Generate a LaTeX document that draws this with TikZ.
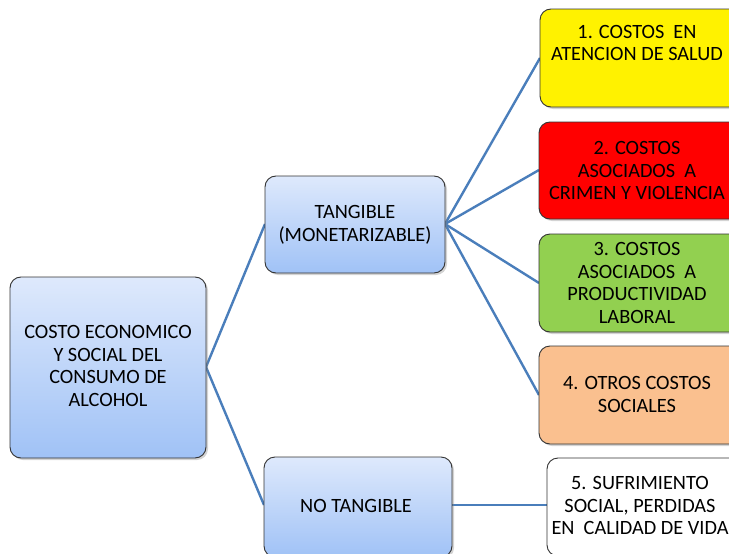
\documentclass[tikz,border=0pt]{standalone}
\usepackage{fontspec}
\setmainfont{Carlito}
\usetikzlibrary{shadows}
\definecolor{linkblue}{RGB}{74,126,187}
\definecolor{bluetop}{RGB}{222,233,252}
\definecolor{bluebot}{RGB}{160,194,246}
\definecolor{boxgreen}{RGB}{146,208,80}
\definecolor{boxorange}{RGB}{250,192,143}
\tikzset{
  box/.style={draw=black!80, line width=0.9pt, rounded corners=11pt,
    inner sep=0pt, drop shadow={opacity=0.35, shadow xshift=2pt, shadow yshift=-2pt}},
  bluebox/.style={box, top color=bluetop, bottom color=bluebot},
  lbl/.style={align=center, inner sep=0pt, font=\fontsize{20.3}{22.6}\selectfont},
  link/.style={draw=linkblue, line width=2.4pt}
}
\begin{document}
\begin{tikzpicture}[x=1pt, y=-1pt]
\useasboundingbox (0,0) rectangle (729,554);
\clip (0,0) rectangle (729,554);
% connectors
\coordinate (rootE) at (206,367);
\coordinate (tangW) at (265,224);
\coordinate (tangE) at (445,224);
\coordinate (notW) at (264,505);
\coordinate (notE) at (452,505);
\coordinate (b1W) at (540,58);
\coordinate (b2W) at (539,170);
\coordinate (b3W) at (539,283);
\coordinate (b4W) at (539,395);
\coordinate (b5W) at (547,505);
\draw[link] (rootE) -- (tangW);
\draw[link] (rootE) -- (notW);
\draw[link] (tangE) -- (b1W);
\draw[link] (tangE) -- (b2W);
\draw[link] (tangE) -- (b3W);
\draw[link] (tangE) -- (b4W);
\draw[link] (notE) -- (b5W);
% boxes
\node[bluebox, minimum width=196pt, minimum height=181pt] (root) at (108,367.5) {};
\node[bluebox, minimum width=180pt, minimum height=97pt] (tang) at (355,224.5) {};
\node[bluebox, minimum width=188pt, minimum height=100pt] (notang) at (358,507) {};
\node[box, fill=yellow, minimum width=204pt, minimum height=98pt] (b1) at (642,58) {};
\node[box, fill=red, minimum width=204pt, minimum height=97pt] (b2) at (641,170.5) {};
\node[box, fill=boxgreen, minimum width=204pt, minimum height=98pt] (b3) at (641,283) {};
\node[box, fill=boxorange, minimum width=204pt, minimum height=98pt] (b4) at (641,395) {};
\node[box, fill=white, minimum width=196pt, minimum height=98pt] (b5) at (645,507) {};
% labels
\node[lbl] (troot) at (108,366) {COSTO ECONOMICO\\Y SOCIAL DEL\\CONSUMO DE\\ALCOHOL};
\node[lbl] (ttang) at (355,225) {TANGIBLE\\(MONETARIZABLE)};
\node[lbl] (tnot) at (356,506) {NO TANGIBLE};
\node[lbl] (t1) at (637,43) {1. COSTOS\ \ EN\\ATENCION DE SALUD};
\node[lbl] (t2) at (637,170.5) {2. COSTOS\\ASOCIADOS\ \ A\\CRIMEN Y VIOLENCIA};
\node[lbl] (t3) at (637,283) {3. COSTOS\\ASOCIADOS\ \ A\\PRODUCTIVIDAD\\LABORAL};
\node[lbl] (t4) at (637,394.5) {4. OTROS COSTOS\\SOCIALES};
\node[lbl] (t5) at (640,505.5) {5. SUFRIMIENTO\\SOCIAL, PERDIDAS\\EN\ \ CALIDAD DE VIDA};
\end{tikzpicture}
\end{document}
